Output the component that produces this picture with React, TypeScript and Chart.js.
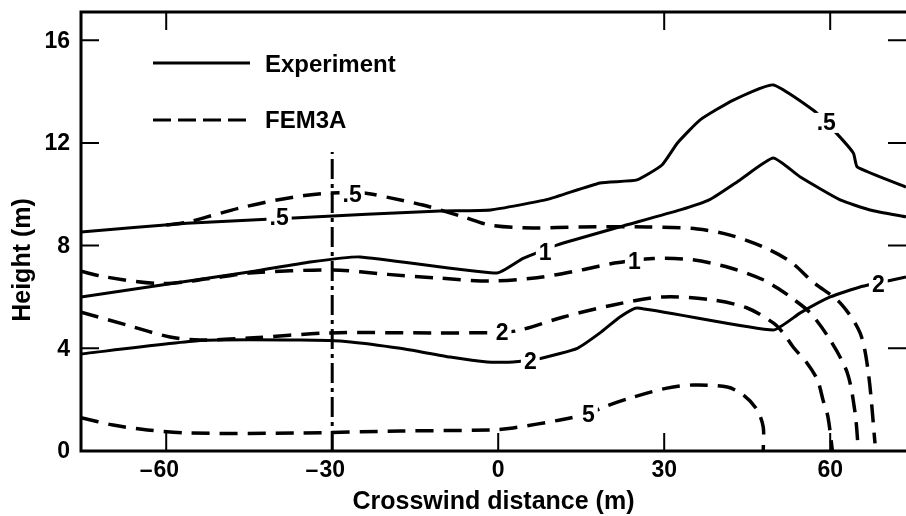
import React, { useEffect, useRef } from 'react';
import { Chart, registerables } from 'chart.js';

Chart.register(...registerables);

type Pt = [number, number];

// Measured concentration contours (solid)
const expHalf: Pt[] = [
  [-75.4, 8.53], [-56.3, 8.87], [-41.8, 9.03], [-37, 9.08], [-10.5, 9.35], [-1.4, 9.39],
  [8.9, 9.8], [18.4, 10.44], [25.1, 10.56], [29.6, 11.14], [32.4, 12.0], [36.5, 12.9],
  [42.5, 13.67], [49.7, 14.26], [56.9, 13.28], [60.9, 12.43], [64.2, 11.6], [64.9, 11.06],
  [73.7, 10.28],
];
const expOne: Pt[] = [
  [-75.4, 6.0], [-45, 6.97], [-34, 7.36], [-25, 7.56], [-0.2, 6.93], [4.5, 7.5], [10.6, 8.02],
  [22, 8.73], [32.9, 9.39], [38.3, 9.8], [43.7, 10.56], [49.7, 11.41], [54.6, 10.67],
  [61.8, 9.78], [67.2, 9.39], [73.7, 9.12],
];
const expTwo: Pt[] = [
  [-75.4, 3.78], [-53.9, 4.3], [-35.8, 4.32], [-26.7, 4.25], [-17.7, 4.0], [-8.7, 3.66],
  [-2, 3.47], [2.7, 3.47], [8, 3.62], [14.3, 4.0], [18.4, 4.6], [22, 5.22], [25.1, 5.57],
  [49.7, 4.71], [54.6, 5.38], [60, 6.0], [65.4, 6.39], [71.2, 6.66], [73.7, 6.78],
];

// FEM3A model contours (dashed)
const femHalf: Pt[] = [
  [-60, 8.8], [-56, 8.92], [-52.6, 9.12], [-46.6, 9.47], [-40, 9.78], [-35, 9.95],
  [-30.4, 10.05], [-24.4, 10.05], [-19.5, 9.86], [-13.6, 9.58], [-6.3, 9.12], [-1.4, 8.8],
  [6.3, 8.69], [14.8, 8.73], [26.9, 8.73], [36, 8.65], [41.9, 8.41], [47.9, 7.95],
  [52.8, 7.38], [56.9, 6.58], [61.8, 5.77], [65.4, 4.6], [66.9, 3.04], [68.1, 0.3],
];
const femOne: Pt[] = [
  [-75.4, 7.0], [-71, 6.78], [-61, 6.52], [-52, 6.72], [-45, 6.93], [-30, 7.05], [-20, 6.88],
  [-11, 6.74], [-1.5, 6.62], [7, 6.75], [15, 7.05], [21, 7.32], [28, 7.5], [35, 7.45],
  [42, 7.13], [48, 6.66], [51, 6.27], [52.8, 6.0], [56.4, 5.38], [60, 4.32], [63.1, 3.04],
  [64.5, 1.48], [65.1, 0],
];
const femTwo: Pt[] = [
  [-75.4, 5.41], [-67, 4.9], [-59.3, 4.44], [-53.9, 4.32], [-45, 4.4], [-30.4, 4.6],
  [-11.7, 4.6], [0.7, 4.62], [4, 4.71], [11.8, 5.22], [20.8, 5.69], [29.8, 6.0], [38.9, 5.88],
  [45, 5.57], [49.7, 4.99], [51.5, 4.6], [53.3, 4.05], [55.8, 3.43], [57.7, 2.77],
  [58.7, 1.99], [59.6, 1.32], [60.4, 0],
];
const femFive: Pt[] = [
  [-75.4, 1.3], [-69.6, 1.01], [-63.4, 0.82], [-56.2, 0.7], [-35.8, 0.7], [-17.7, 0.78],
  [-1.4, 0.82], [2.7, 0.9], [11.2, 1.21], [16.3, 1.45], [19, 1.71], [24.4, 2.1], [30.5, 2.45],
  [35.2, 2.57], [41.4, 2.49], [44.3, 2.18], [46.8, 1.6], [47.9, 0.93], [47.9, 0],
];

// Mast position
const mastLine: Pt[] = [[-30, 0], [-30, 11.65]];

// Axes
const X_MIN = -75.4;
const X_MAX = 73.7;
const Y_MIN = 0;
const Y_MAX = 17.1;
const xTicks = [-60, -30, 0, 30, 60];
const yTicks = [0, 4, 8, 12, 16];
const topTicks = [-60, 30, 60];
const leftTicks = [4, 8, 12, 16];
const rightTicks = [4, 8, 12, 16];

// Contour value labels
const labelText = ['.5', '.5', '.5', '1', '1', '2', '2', '2', '5'];
const labelX = [-39.6, -26.4, 59.3, 8.5, 24.6, 0.7, 5.8, 68.7, 16.3];
const labelY = [9.08, 10.0, 12.78, 7.71, 7.36, 4.6, 3.47, 6.47, 1.4];

const legendNames = ['Experiment', 'FEM3A'];
const xTitle = 'Crosswind distance (m)';
const yTitle = 'Height (m)';

const FONT = '"Liberation Sans", Arial, Helvetica, sans-serif';
const DASH = [18, 10];

const toXY = (pts: Pt[]) => pts.map(([x, y]) => ({ x, y }));

const chartDecor = {
  id: 'chartDecor',
  afterDatasetsDraw(chart: any) {
    const { ctx, scales } = chart;
    const xs = scales.x;
    const ys = scales.y;
    ctx.save();
    ctx.font = `bold 23px ${FONT}`;
    ctx.textAlign = 'center';
    ctx.textBaseline = 'middle';
    labelText.forEach((t, i) => {
      const px = xs.getPixelForValue(labelX[i]);
      const py = ys.getPixelForValue(labelY[i]);
      const w = ctx.measureText(t).width + 6;
      ctx.fillStyle = '#fff';
      ctx.fillRect(px - w / 2, py - 10, w, 20);
      ctx.fillStyle = '#000';
      ctx.fillText(t, px, py + 1);
    });
    ctx.restore();
  },
  afterDraw(chart: any) {
    const { ctx, chartArea: a, scales } = chart;
    const xs = scales.x;
    const ys = scales.y;
    ctx.save();
    ctx.strokeStyle = '#000';
    ctx.fillStyle = '#000';

    // frame (left, top, bottom)
    ctx.lineWidth = 3;
    ctx.beginPath();
    ctx.moveTo(a.right, a.top);
    ctx.lineTo(a.left, a.top);
    ctx.lineTo(a.left, a.bottom);
    ctx.lineTo(a.right, a.bottom);
    ctx.stroke();

    // inward ticks
    const TL = 18;
    ctx.lineWidth = 2;
    ctx.beginPath();
    xTicks.forEach((v) => {
      const px = xs.getPixelForValue(v);
      ctx.moveTo(px, a.bottom);
      ctx.lineTo(px, a.bottom - TL);
    });
    topTicks.forEach((v) => {
      const px = xs.getPixelForValue(v);
      ctx.moveTo(px, a.top);
      ctx.lineTo(px, a.top + TL);
    });
    leftTicks.forEach((v) => {
      const py = ys.getPixelForValue(v);
      ctx.moveTo(a.left, py);
      ctx.lineTo(a.left + TL, py);
    });
    rightTicks.forEach((v) => {
      const py = ys.getPixelForValue(v);
      ctx.moveTo(a.right, py);
      ctx.lineTo(a.right - TL, py);
    });
    ctx.stroke();

    // tick labels
    ctx.font = `bold 23px ${FONT}`;
    ctx.textBaseline = 'middle';
    ctx.textAlign = 'right';
    yTicks.forEach((v) => {
      ctx.fillText(String(v), a.left - 11, ys.getPixelForValue(v) + 1);
    });
    xTicks.forEach((v) => {
      const px = xs.getPixelForValue(v);
      const digits = String(Math.abs(v));
      const w = ctx.measureText(digits).width;
      ctx.textAlign = 'center';
      ctx.fillText(digits, px, a.bottom + 20);
      if (v < 0) {
        ctx.textAlign = 'right';
        ctx.fillText('\u2013', px - w / 2 - 1, a.bottom + 20);
      }
    });

    // axis titles
    ctx.font = `bold 25px ${FONT}`;
    ctx.textAlign = 'center';
    ctx.textBaseline = 'alphabetic';
    ctx.fillText(xTitle, (a.left + a.right) / 2, a.bottom + 58);
    ctx.save();
    ctx.translate(30, 260);
    ctx.rotate(-Math.PI / 2);
    ctx.fillText(yTitle, 0, 0);
    ctx.restore();

    // legend
    const lx0 = a.left + 72;
    const lx1 = a.left + 169;
    const ly0 = a.top + 51;
    const ly1 = a.top + 108;
    ctx.lineWidth = 3;
    ctx.beginPath();
    ctx.moveTo(lx0, ly0);
    ctx.lineTo(lx1, ly0);
    ctx.stroke();
    ctx.setLineDash([18, 7]);
    ctx.beginPath();
    ctx.moveTo(lx0, ly1);
    ctx.lineTo(lx1, ly1);
    ctx.stroke();
    ctx.setLineDash([]);
    ctx.font = `bold 24px ${FONT}`;
    ctx.textAlign = 'left';
    ctx.textBaseline = 'middle';
    ctx.fillText(legendNames[0], a.left + 184, ly0 + 2);
    ctx.fillText(legendNames[1], a.left + 184, ly1 + 1);

    ctx.restore();
  },
};

export default function App() {
  const canvasRef = useRef<HTMLCanvasElement | null>(null);

  useEffect(() => {
    const canvas = canvasRef.current;
    if (!canvas) return;
    const solid = (pts: Pt[]) => ({
      data: toXY(pts),
      borderColor: '#000',
      borderWidth: 3,
      pointRadius: 0,
      tension: 0.15,
      fill: false,
    });
    const dashed = (pts: Pt[]) => ({
      data: toXY(pts),
      borderColor: '#000',
      borderWidth: 3.5,
      borderDash: DASH,
      pointRadius: 0,
      tension: 0.3,
      fill: false,
    });
    const chart = new Chart(canvas, {
      type: 'line',
      data: {
        datasets: [
          solid(expHalf),
          solid(expOne),
          solid(expTwo),
          dashed(femHalf),
          dashed(femOne),
          dashed(femTwo),
          dashed(femFive),
          {
            data: toXY(mastLine),
            borderColor: '#000',
            borderWidth: 3,
            borderDash: [20, 5, 4, 5],
            pointRadius: 0,
            tension: 0,
            fill: false,
          },
        ],
      },
      options: {
        responsive: false,
        animation: false,
        events: [],
        layout: { padding: { left: 81, top: 12, right: 0, bottom: 65 } },
        plugins: { legend: { display: false }, tooltip: { enabled: false } },
        scales: {
          x: { type: 'linear', display: false, min: X_MIN, max: X_MAX },
          y: { type: 'linear', display: false, min: Y_MIN, max: Y_MAX },
        },
      },
      plugins: [chartDecor],
    });
    return () => chart.destroy();
  }, []);

  return (
    <div style={{ position: 'fixed', left: 0, top: 0, width: 906, height: 516, background: '#fff' }}>
      <canvas ref={canvasRef} width={906} height={516} style={{ display: 'block' }} />
    </div>
  );
}
